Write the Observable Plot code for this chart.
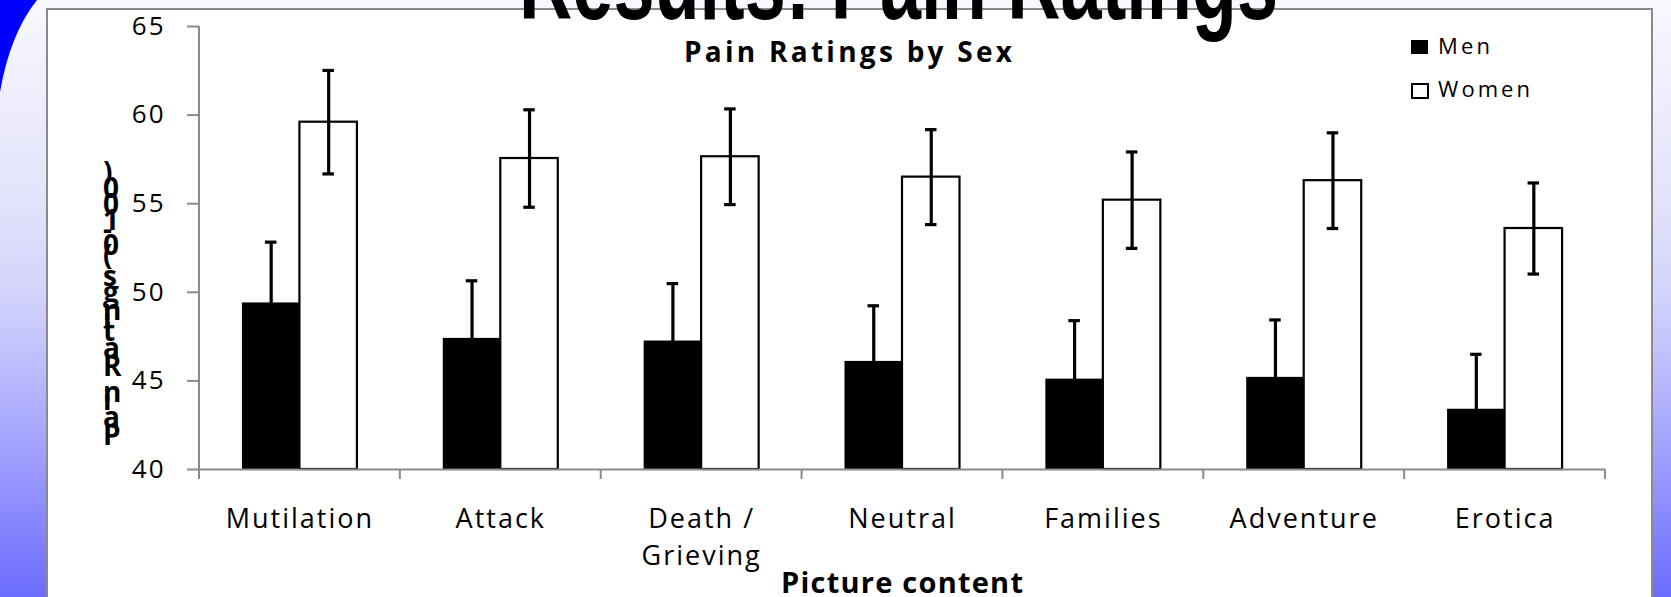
<!DOCTYPE html>
<html>
<head>
<meta charset="utf-8">
<script src="https://cdn.jsdelivr.net/npm/d3@7"></script>
<script src="https://cdn.jsdelivr.net/npm/@observablehq/plot@0.6"></script>
<style>
  html, body { margin: 0; padding: 0; background: #f8f8ff; }
  #chart { width: 1671px; height: 597px; overflow: hidden; }
</style>
</head>
<body>
<div id="chart"></div>
<script>
// ---- data ----
const categories = ["Mutilation", "Attack", "Death /\nGrieving", "Neutral", "Families", "Adventure", "Erotica"];
const sexes = ["Men", "Women"];
const menMeans = [49.4, 47.4, 47.25, 46.1, 45.1, 45.2, 43.4];
const menSE = [3.43, 3.25, 3.24, 3.14, 3.3, 3.24, 3.1];
const womenMeans = [59.6, 57.55, 57.65, 56.5, 55.2, 56.3, 53.6];
const womenSE = [2.92, 2.75, 2.7, 2.68, 2.72, 2.7, 2.57];
const yTicks = [40, 45, 50, 55, 60, 65];
const slideTitle = "Results: Pain Ratings";
const chartTitle = "Pain Ratings by Sex";
const xLabel = "Picture content";
const yLabel = "Pain Ratings (0-100)";

const rows = categories.flatMap((c, i) => [
  {cat: c, sex: "Men", mean: menMeans[i], se: menSE[i]},
  {cat: c, sex: "Women", mean: womenMeans[i], se: womenSE[i]}
]);

const gray = "#8a8a8a";

const plot = Plot.plot({
  width: 1671,
  height: 597,
  marginLeft: 199,
  marginRight: 66,
  marginTop: 26,
  marginBottom: 128,
  style: {background: "transparent", overflow: "visible", fontFamily: "'Open Sans', sans-serif", color: "#000", letterSpacing: "2px"},
  fx: {domain: categories, padding: 0, round: false, axis: null, label: null},
  x: {domain: sexes, paddingInner: 0, paddingOuter: 0.7466, align: 0.5, round: false, axis: null, label: null},
  y: {domain: [40, 65], label: null},
  marks: [
    Plot.barY(rows, {filter: d => d.sex === "Men", fx: "cat", x: "sex", y1: 40, y2: "mean", fill: "#000"}),
    Plot.barY(rows, {filter: d => d.sex === "Women", fx: "cat", x: "sex", y1: 40, y2: "mean", fill: "#fff", stroke: "#000", strokeWidth: 2.2}),
    Plot.ruleX(rows, {fx: "cat", x: "sex", y1: d => d.mean - d.se, y2: d => d.mean + d.se, stroke: "#000", strokeWidth: 3.2}),
    Plot.tickY(rows, {fx: "cat", x: "sex", y: d => d.mean + d.se, stroke: "#000", strokeWidth: 3.2, insetLeft: 23, insetRight: 23}),
    Plot.tickY(rows, {fx: "cat", x: "sex", y: d => d.mean - d.se, stroke: "#000", strokeWidth: 3.2, insetLeft: 23, insetRight: 23}),
    Plot.ruleY([40], {stroke: gray, strokeWidth: 2}),
    Plot.axisY({anchor: "left", ticks: yTicks, tickSize: 12, tickPadding: 22, stroke: gray, strokeWidth: 2, fill: "#000", fontSize: 26, label: null}),
    Plot.text(categories, {fx: d => d, x: null, y: null, text: d => d, frameAnchor: "bottom", lineAnchor: "top", dy: 32, fontSize: 27, lineHeight: 1.37, fill: "#000"})
  ]
});

document.getElementById("chart").appendChild(plot);
const svg = d3.select(plot);

// scales from the plot
const fxS = plot.scale("fx");
const yS = plot.scale("y");
const yAt = v => yS.apply ? yS.apply(v) : (yS.range[0] + (v - yS.domain[0]) / (yS.domain[1] - yS.domain[0]) * (yS.range[1] - yS.range[0]));
const step = fxS.step || ((fxS.range[1] - fxS.range[0]) / categories.length);
const fxAt = c => fxS.apply ? fxS.apply(c) : fxS.range[0] + categories.indexOf(c) * step;
const bw = fxS.bandwidth || step;

// ---- background (inserted below everything) ----
const bg = svg.insert("g", ":first-child");
const defs = bg.append("defs");
const grad = defs.append("linearGradient").attr("id", "bggrad").attr("x1", 0).attr("y1", 0).attr("x2", 0).attr("y2", 1);
[[0, "#f8f8ff"], [0.33, "#e3e3fb"], [0.5, "#d2d2fc"], [0.75, "#a2a2ff"], [1, "#6c6cff"]].forEach(([o, c]) =>
  grad.append("stop").attr("offset", o).attr("stop-color", c));
bg.append("rect").attr("x", 0).attr("y", 0).attr("width", 1671).attr("height", 597).attr("fill", "url(#bggrad)");
bg.append("path").attr("d", "M0,0 L37,0 Q10,34 0,92 Z").attr("fill", "#0000ff");
bg.append("rect").attr("x", 47).attr("y", 9).attr("width", 1605).attr("height", 700)
  .attr("fill", "#fff").attr("stroke", gray).attr("stroke-width", 2);

// ---- axis lines / boundary ticks from scales ----
const ov = svg.append("g");
ov.append("line").attr("x1", fxAt(categories[0])).attr("x2", fxAt(categories[0]))
  .attr("y1", yAt(65)).attr("y2", yAt(40)).attr("stroke", gray).attr("stroke-width", 2);
const bounds = categories.map(fxAt).concat([fxAt(categories[categories.length - 1]) + bw]);
bounds.forEach(x => ov.append("line").attr("x1", x).attr("x2", x).attr("y1", yAt(40)).attr("y2", yAt(40) + 10)
  .attr("stroke", gray).attr("stroke-width", 2));

// ---- texts ----
const t = svg.append("g").attr("fill", "#000").attr("text-anchor", "start");
t.append("text").attr("x", 519).attr("y", 19).attr("font-family", "'Liberation Sans', Arial, sans-serif")
  .attr("font-weight", "bold").attr("font-size", 110).style("letter-spacing", "0px").attr("text-anchor", "start")
  .attr("textLength", 759).attr("lengthAdjust", "spacingAndGlyphs").text(slideTitle);
t.append("text").attr("x", 684).attr("y", 62).attr("font-family", "'Open Sans', sans-serif")
  .attr("font-weight", "bold").attr("font-size", 28).style("letter-spacing", "0px").attr("text-anchor", "start")
  .attr("textLength", 328).attr("lengthAdjust", "spacing").text(chartTitle);
const xc = (fxAt(categories[0]) + bounds[bounds.length - 1]) / 2;
t.append("text").attr("x", xc - 121).attr("y", 593).attr("font-family", "'Open Sans', sans-serif")
  .attr("font-weight", "bold").attr("font-size", 29).style("letter-spacing", "0px").attr("text-anchor", "start")
  .attr("textLength", 242).attr("lengthAdjust", "spacing").text(xLabel);
// y label: rotated text with upright glyphs (as in the original)
t.append("text").attr("transform", "translate(103,445) rotate(-90)").attr("rotate", 90)
  .attr("text-anchor", "start")
  .attr("font-family", "'Open Sans', sans-serif").attr("font-weight", "bold").attr("font-size", 28)
  .style("letter-spacing", "0px").text(yLabel);

// legend
const leg = svg.append("g");
leg.append("rect").attr("x", 1411).attr("y", 40).attr("width", 17).attr("height", 14).attr("fill", "#000");
leg.append("rect").attr("x", 1412).attr("y", 84).attr("width", 16).attr("height", 14).attr("fill", "#fff").attr("stroke", "#000").attr("stroke-width", 2);
leg.append("text").attr("x", 1438).attr("y", 54).attr("font-family", "'Open Sans', sans-serif").attr("font-size", 22)
  .attr("text-anchor", "start").style("letter-spacing", "0px").attr("textLength", 52).attr("lengthAdjust", "spacing").text(sexes[0]);
leg.append("text").attr("x", 1438).attr("y", 97).attr("font-family", "'Open Sans', sans-serif").attr("font-size", 22)
  .attr("text-anchor", "start").style("letter-spacing", "0px").attr("textLength", 92).attr("lengthAdjust", "spacing").text(sexes[1]);
</script>
</body>
</html>
